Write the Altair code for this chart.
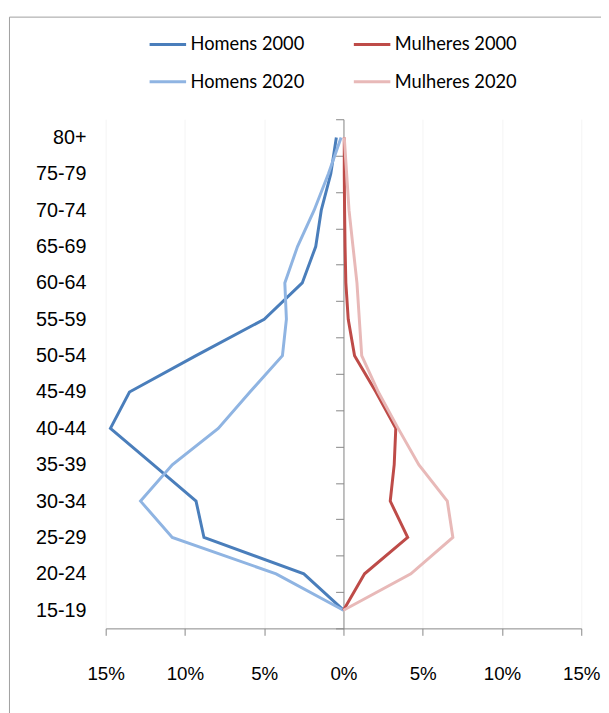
import altair as alt
import pandas as pd

# ---- data (percent of workers; men shown on the negative side) ----
ages = ["15-19", "20-24", "25-29", "30-34", "35-39", "40-44", "45-49",
        "50-54", "55-59", "60-64", "65-69", "70-74", "75-79", "80+"]
homens_2000 = [0, -2.5, -8.8, -9.3, -12.0, -14.7, -13.5, -9.3, -5.0, -2.6, -1.75, -1.4, -0.8, -0.45]
homens_2020 = [0, -4.25, -10.8, -12.8, -10.8, -7.9, -5.9, -3.85, -3.6, -3.7, -2.9, -1.85, -0.95, -0.15]
mulheres_2000 = [0, 1.33, 4.05, 2.95, 3.2, 3.3, 2.05, 0.7, 0.3, 0.15, 0.1, 0.07, 0.05, 0.05]
mulheres_2020 = [0, 4.25, 6.9, 6.55, 4.75, 3.45, 2.2, 1.15, 1.0, 0.85, 0.6, 0.35, 0.2, 0.05]

series_names = ["Homens 2000", "Homens 2020", "Mulheres 2000", "Mulheres 2020"]
series_values = [homens_2000, homens_2020, mulheres_2000, mulheres_2020]
series_colors = ["#4A7EBB", "#8FB4E2", "#BE4B48", "#E8B9B8"]
x_ticks = [-15, -10, -5, 0, 5, 10, 15]

rows = []
for name, vals in zip(series_names, series_values):
    for i, (a, v) in enumerate(zip(ages, vals)):
        rows.append({"faixa": a, "valor": v, "serie": name, "ordem": i})
df = pd.DataFrame(rows)

age_order = ages[::-1]  # 80+ at the top

W, H = 482, 516
AXIS_GREY = "#868686"

lines = alt.Chart(df).mark_line(strokeWidth=3).encode(
    x=alt.X(
        "valor:Q",
        scale=alt.Scale(domain=[-15, 15], nice=False, zero=False),
        axis=alt.Axis(
            values=x_ticks,
            labelExpr="abs(datum.value) + '%'",
            labelFlush=False,
            labelOverlap=False,
            title=None,
            grid=True,
            gridColor="#F4F4F4",
            domainColor=AXIS_GREY,
            tickColor=AXIS_GREY,
            tickSize=7,
            labelPadding=30,
            labelFont="Liberation Sans",
            labelFontSize=19,
            labelColor="#000000",
        ),
    ),
    y=alt.Y(
        "faixa:N",
        scale=alt.Scale(type="band", domain=age_order, paddingInner=0, paddingOuter=0),
        bandPosition=0.5,
        axis=alt.Axis(
            orient="left",
            offset=-241,
            tickBand="extent",
            title=None,
            grid=False,
            domainColor=AXIS_GREY,
            tickColor=AXIS_GREY,
            tickSize=8,
            labelPadding=253,
            labelFont="Liberation Sans",
            labelFontSize=20,
            labelColor="#000000",
        ),
    ),
    color=alt.Color(
        "serie:N",
        scale=alt.Scale(domain=series_names, range=series_colors),
        legend=alt.Legend(
            orient="none",
            legendX=43,
            legendY=-96,
            columns=2,
            title=None,
            symbolType="stroke",
            symbolSize=1369,
            symbolStrokeWidth=3,
            labelFont="Lato",
            labelFontSize=18.5,
            labelColor="#000000",
            labelOffset=3,
            columnPadding=43,
            rowPadding=8,
            padding=0,
            offset=0,
        ),
    ),
    order=alt.Order("ordem:Q"),
)

border = alt.Chart(pd.DataFrame({"k": [0]})).mark_rect(
    fillOpacity=0, stroke="#A0A0A0", strokeWidth=1
).encode(
    x=alt.value(-97.5), x2=alt.value(620), y=alt.value(-103.5), y2=alt.value(720)
)

chart = alt.layer(border, lines).properties(
    width=W,
    height=H,
    autosize="none",
    padding={"left": 99, "top": 108, "right": 20, "bottom": 81},
).configure_view(stroke=None)

chart.save("out.html", embed_options={"renderer": "svg", "actions": False})
